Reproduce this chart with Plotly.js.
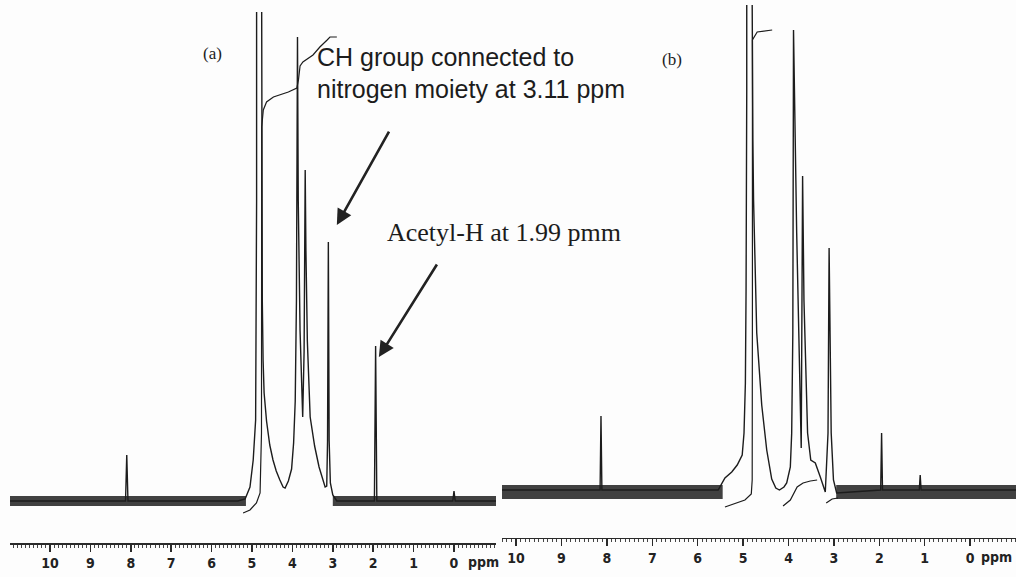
<!DOCTYPE html>
<html>
<head>
<meta charset="utf-8">
<script src="https://cdn.plot.ly/plotly-3.0.1.min.js"></script>
<style>html,body{margin:0;padding:0;background:#fdfdfd;}#chart{width:1016px;height:577px;}</style>
</head>
<body>
<div id="chart"></div>
<script>
// ---------- Panel (a) spectrum (ppm, relative intensity); null = clipped top ----------
const ppmA = [11.0, 8.13, 8.10, 8.07, 5.35, 5.17, 5.05, 4.97, 4.91, 4.886, 4.886, null, 4.76, 4.76, 4.745, 4.725, 4.70, 4.64, 4.56, 4.48, 4.40, 4.31, 4.23, 4.18, 4.10, 4.02, 3.97, 3.93, 3.90, 3.874, 3.855, 3.81, 3.745, 3.71, 3.683, 3.665, 3.63, 3.56, 3.45, 3.34, 3.24, 3.19, 3.15, 3.13, 3.11, 3.09, 3.06, 3.00, 2.90, 1.97, 1.94, 1.91, 0.03, 0.0, -0.03, -1.05];
const intA = [0, 0, 46, 0, 0, 2, 14, 41, 81, 300, 489, null, 489, 300, 200, 140, 108, 80, 56, 41, 30, 21, 14, 13, 20, 32, 58, 100, 200, 464, 300, 170, 84, 150, 331, 250, 160, 84, 55, 34, 20, 14, 15, 60, 259, 60, 18, 6, 0, 0, 155, 0, 0, 10, 0, 0];
// integral curve (a)
const ppmIntA = [5.22, 5.05, 4.89, 4.80, 4.765, 4.76, 4.72, 4.64, 4.47, 4.10, 3.89, 3.85, 3.81, 3.74, 3.49, 3.32, 3.14, 3.07, 2.90];
const valIntA = [-12, -9, -2, 8, 68, 374, 391, 399, 404, 409, 413, 421, 435, 439, 446, 454, 461, 464, 464];
// noise envelope (a)
const noiseA_ppm = [[11.0, 5.15], [3.0, -1.05]];
const noiseA_hi = 5, noiseA_lo = -5;

// ---------- Panel (b) spectrum ----------
const ppmB = [10.31, 8.15, 8.13, 8.11, 5.55, 5.40, 5.25, 5.13, 5.02, 4.98, 4.95, 4.935, 4.92, 4.92, null, 4.80, 4.80, 4.785, 4.77, 4.70, 4.59, 4.48, 4.37, 4.28, 4.20, 4.10, 4.04, 3.96, 3.93, 3.905, 3.89, 3.82, 3.72, 3.69, 3.66, 3.61, 3.58, 3.51, 3.41, 3.30, 3.19, 3.13, 3.106, 3.06, 3.01, 2.94, 1.97, 1.95, 1.93, 1.12, 1.10, 1.08, -1.01];
const intB = [0, 0, 74, 0, 0, 12, 18, 25, 35, 57, 107, 200, 400, 485, null, 485, 400, 350, 290, 157, 85, 40, 11, 2, 0, 3, 7, 23, 57, 157, 460, 257, 42, 314, 190, 90, 57, 30, 27, 13, -2, 57, 242, 57, 10, -3, 0, 57, 0, 0, 15, 0, 0];
// integral curves (b)
const ppmIntB1 = [5.40, 4.96, 4.82, 4.80, 4.795, 4.795, 4.69, 4.36];
const valIntB1 = [-17, -10, -4, 10, 190, 450, 458, 460];
const ppmIntB2 = [4.12, 3.96, 3.81, 3.68, 3.52, 3.37];
const valIntB2 = [-16, -10, 3, 7, 9, 10];
const ppmIntB3 = [3.17, 3.04, 2.91];
const valIntB3 = [-13, -9, -8];
const noiseB_ppm = [[10.31, 5.45], [2.95, -1.01]];
const noiseB_hi = 5, noiseB_lo = -9;

// tick labels
const tickVals = [10, 9, 8, 7, 6, 5, 4, 3, 2, 1, 0];
const tickText = ['10', '9', '8', '7', '6', '5', '4', '3', '2', '1', '0'];

const ink = '#1c1c1c';
function band(segs, hi, lo, xa, ya) {
  return segs.map(s => ({
    x: [s[0], s[1], s[1], s[0]], y: [hi, hi, lo, lo],
    xaxis: xa, yaxis: ya, type: 'scatter', mode: 'lines', fill: 'toself',
    fillcolor: 'rgba(55,55,55,0.85)',
    fillpattern: {shape: '|', size: 2, solidity: 0.5, fgcolor: '#141414', bgcolor: 'rgba(85,85,85,0.85)', fgopacity: 1},
    line: {width: 0}, hoverinfo: 'skip'
  }));
}
function line(x, y, xa, ya, w) {
  return {x: x, y: y, xaxis: xa, yaxis: ya, type: 'scatter', mode: 'lines', connectgaps: false,
    line: {color: ink, width: w || 1.3}, hoverinfo: 'skip'};
}

const traces = [].concat(
  band(noiseA_ppm, noiseA_hi, noiseA_lo, 'x', 'y'),
  band(noiseB_ppm, noiseB_hi, noiseB_lo, 'x2', 'y2'),
  [line(ppmA, intA, 'x', 'y', 1.4), line(ppmIntA, valIntA, 'x', 'y', 1.2),
   line(ppmB, intB, 'x2', 'y2', 1.4), line(ppmIntB1, valIntB1, 'x2', 'y2', 1.2),
   line(ppmIntB2, valIntB2, 'x2', 'y2', 1.2), line(ppmIntB3, valIntB3, 'x2', 'y2', 1.2)]
);

const tickFont = {family: 'Liberation Sans Narrow, Arial Narrow, DejaVu Sans Condensed, Liberation Sans, Arial', size: 14, color: '#222', weight: 'bold'};
function xax(domain, range, anchor) {
  return {domain: domain, range: range, anchor: anchor, showline: true, linecolor: '#2a2a2a', linewidth: 1.5,
    ticks: 'outside', ticklen: 7, tickwidth: 1.5, tickcolor: '#2a2a2a', tickmode: 'array',
    tickvals: tickVals, ticktext: tickText, tickfont: tickFont, showgrid: false, zeroline: false,
    minor: {ticks: 'outside', ticklen: 3, tickwidth: 1, tickcolor: '#444', tickmode: 'linear', tick0: 0, dtick: 0.1, showgrid: false}};
}
function yax(domain, range, anchor) {
  return {domain: domain, range: range, anchor: anchor, visible: false, showgrid: false, zeroline: false};
}
const serif = 'Liberation Serif, Times New Roman, serif';
const sans = 'Liberation Sans, Arial, sans-serif';
function txt(x, y, text, font, xanchor) {
  return {xref: 'paper', yref: 'paper', x: x, y: y, text: text, showarrow: false,
    xanchor: xanchor || 'center', yanchor: 'middle', font: font};
}
const layout = {
  width: 1016, height: 577, margin: {l: 0, r: 0, t: 0, b: 0},
  paper_bgcolor: '#fdfdfd', plot_bgcolor: 'rgba(0,0,0,0)', showlegend: false,
  xaxis: xax([0.00984, 0.4882], [10.99, -1.04], 'y'),
  yaxis: yax([0.0589, 1], [-42, 501], 'x'),
  xaxis2: xax([0.4941, 1], [10.31, -1.01], 'y2'),
  yaxis2: yax([0.0676, 1], [-48, 490], 'x2'),
  annotations: [
    txt(483 / 1016, 1 - 562 / 577, 'ppm', tickFont),
    txt(1014 / 1016, 1 - 557 / 577, 'ppm', tickFont, 'right'),
    txt(212 / 1016, 1 - 54 / 577, '(a)', {family: serif, size: 17, color: ink}),
    txt(672 / 1016, 1 - 59 / 577, '(b)', {family: serif, size: 17, color: ink}),
    txt(315 / 1016, 1 - 57 / 577, 'CH group connected to', {family: sans, size: 25, color: ink}, 'left'),
    txt(315 / 1016, 1 - 89 / 577, 'nitrogen moiety at 3.11 ppm', {family: sans, size: 25, color: ink}, 'left'),
    txt(504 / 1016, 1 - 233 / 577, 'Acetyl-H at 1.99 pmm', {family: serif, size: 26, color: ink}),
    {xref: 'x', yref: 'y', x: 2.90, y: 276, ax: 53, ay: -95, text: '', showarrow: true, arrowhead: 2, arrowsize: 1.2, arrowwidth: 2.6, arrowcolor: '#222', standoff: 0},
    {xref: 'x', yref: 'y', x: 1.86, y: 144, ax: 59, ay: -94, text: '', showarrow: true, arrowhead: 2, arrowsize: 1.2, arrowwidth: 2.6, arrowcolor: '#222', standoff: 0}
  ]
};
Plotly.newPlot('chart', traces, layout, {staticPlot: true, displayModeBar: false});
</script>
</body>
</html>
